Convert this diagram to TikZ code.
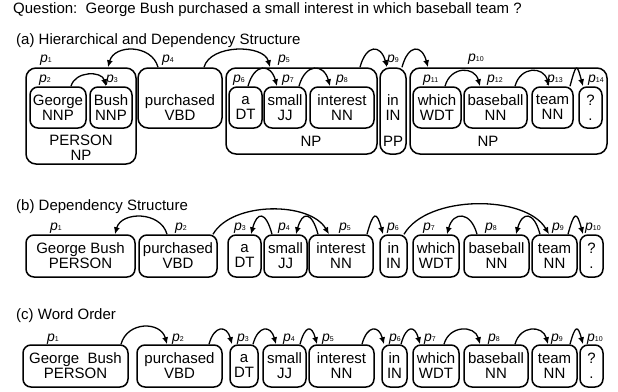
\documentclass[tikz,border=0pt]{standalone}
\usepackage{fontspec}
\setmainfont{Liberation Sans}
\usetikzlibrary{arrows.meta}
\newcommand{\plab}[1]{\textit{p}\raisebox{-0.3pt}{\fontsize{7}{7}\selectfont #1}}

\begin{document}
\begin{tikzpicture}[x=1pt, y=1pt,
                    every node/.style={font=\fontsize{15}{15}\selectfont, inner sep=0pt},
                    word/.style={draw, line width=1.5pt, rounded corners=8pt, align=center, minimum height=41pt},
                    grp/.style={draw, line width=1.5pt, rounded corners=10pt},
                    lbl/.style={align=center},
                    pl/.style={anchor=base west, font=\fontsize{14}{14}\selectfont},
                    dep/.style={-{Latex[length=7pt,width=6pt]}, line width=1.3pt, distance=24pt},
                    rt/.style={out=75, in=105},
                    lf/.style={out=105, in=75}]
\useasboundingbox (0,0) rectangle (618,-391);

\node[anchor=base west] (question) at (13,-13.5) {Question:\ \ George Bush purchased a small interest in which baseball team ?};
\node[anchor=base west] (titlea) at (16,-44.5) {(a) Hierarchical and Dependency Structure};
\node[anchor=base west] (titleb) at (16,-210.5) {(b) Dependency Structure};
\node[anchor=base west] (titlec) at (16,-319.5) {(c) Word Order};

\node[grp, minimum width=110pt, minimum height=96pt] (aperson) at (81,-116) {};
\node[word, minimum width=56pt] (ageorge) at (58,-107.5) {George\\NNP};
\node[word, minimum width=42pt] (abush) at (111,-107.5) {Bush\\NNP};
\node[lbl] (apersonlbl) at (81,-147.5) {PERSON\\NP};
\node[grp, minimum width=84pt, minimum height=60pt] (apurch) at (180,-98) {};
\node[lbl] (apurchlbl) at (180,-107.5) {purchased\\VBD};
\node[grp, minimum width=151pt, minimum height=86pt] (anpa) at (301.5,-111) {};
\node[word, minimum width=33pt] (aa) at (245.5,-107.5) {a\\DT};
\node[word, minimum width=42pt] (asmall) at (285,-107.5) {small\\JJ};
\node[word, minimum width=64pt] (ainterest) at (342,-107.5) {interest\\NN};
\node (anpalbl) at (311,-141) {NP};
\node[grp, minimum width=26pt, minimum height=86pt] (app) at (393,-111) {};
\node[lbl] (applbl) at (393,-107.5) {in\\IN};
\node (apptag) at (393,-141) {PP};
\node[grp, minimum width=197pt, minimum height=86pt] (anpb) at (508.5,-111) {};
\node[word, minimum width=48pt] (awhich) at (437,-107.5) {which\\WDT};
\node[word, minimum width=63pt] (abaseball) at (495.5,-107.5) {baseball\\NN};
\node[word, minimum width=41pt] (ateam) at (552.5,-107.5) {team\\NN};
\node[word, minimum width=23pt] (aq) at (590.5,-107.5) {?\\.};
\node (anpblbl) at (488,-141) {NP};

\node[pl] (ap1) at (40,-62) {\plab{1}};
\node[pl] (ap2) at (39,-82) {\plab{2}};
\node[pl] (ap3) at (106,-82) {\plab{3}};
\node[pl] (ap4) at (162,-62) {\plab{4}};
\node[pl] (ap5) at (278,-62) {\plab{5}};
\node[pl] (ap6) at (233,-82) {\plab{6}};
\node[pl] (ap7) at (282,-82) {\plab{7}};
\node[pl] (ap8) at (336,-82) {\plab{8}};
\node[pl] (ap9) at (387,-62) {\plab{9}};
\node[pl] (ap10) at (468,-61) {\plab{10}};
\node[pl] (ap11) at (423,-82) {\plab{11}};
\node[pl] (ap12) at (487,-82) {\plab{12}};
\node[pl] (ap13) at (547,-82) {\plab{13}};
\node[pl] (ap14) at (588,-82) {\plab{14}};

\draw[dep, lf] ([xshift=-22pt]apurch.north) to ([xshift=27pt]aperson.north);
\draw[dep, rt] ([xshift=24pt]apurch.north) to ([xshift=-31.5pt]anpa.north);
\draw[dep, rt, distance=16pt] ([xshift=13pt]ageorge.north) to ([xshift=-5pt]abush.north);
\draw[dep, rt] ([xshift=2.5pt]aa.north) to ([xshift=-8pt]asmall.north);
\draw[dep, rt] ([xshift=14pt]asmall.north) to ([xshift=-12pt]ainterest.north);
\draw[dep, rt] ([xshift=58.5pt]anpa.north) to ([xshift=-6pt]app.north);
\draw[dep, rt] ([xshift=9pt]app.north) to ([xshift=-80.5pt]anpb.north);
\draw[dep, rt, distance=21pt] ([xshift=8pt]awhich.north) to ([xshift=-15.5pt]abaseball.north);
\draw[dep, rt, distance=21pt] ([xshift=19.5pt]abaseball.north) to ([xshift=-3.5pt]ateam.north);
\draw[dep, rt] ([xshift=17.5pt]ateam.north) to ([xshift=-7.5pt]aq.north);

\node[word, minimum width=109pt, minimum height=42pt] (bgb) at (80.5,-256) {George Bush\\PERSON};
\node[word, minimum width=78pt, minimum height=42pt] (bpurch) at (178,-256) {purchased\\VBD};
\node[word, minimum width=33pt, minimum height=42pt] (ba) at (244.5,-256) {a\\DT};
\node[word, minimum width=43pt, minimum height=42pt] (bsmall) at (285.5,-256) {small\\JJ};
\node[word, minimum width=64pt, minimum height=42pt] (binterest) at (341,-256) {interest\\NN};
\node[word, minimum width=27pt, minimum height=42pt] (bin) at (393.5,-256) {in\\IN};
\node[word, minimum width=46pt, minimum height=42pt] (bwhich) at (436,-256) {which\\WDT};
\node[word, minimum width=65pt, minimum height=42pt] (bbaseball) at (496.5,-256) {baseball\\NN};
\node[word, minimum width=45pt, minimum height=42pt] (bteam) at (554.5,-256) {team\\NN};
\node[word, minimum width=23pt, minimum height=42pt] (bq) at (591.5,-256) {?\\.};

\node[pl] (bp1) at (50,-230.5) {\plab{1}};
\node[pl] (bp2) at (175,-230.5) {\plab{2}};
\node[pl] (bp3) at (234,-230.5) {\plab{3}};
\node[pl] (bp4) at (278,-230.5) {\plab{4}};
\node[pl] (bp5) at (339,-230.5) {\plab{5}};
\node[pl] (bp6) at (387,-230.5) {\plab{6}};
\node[pl] (bp7) at (423,-230.5) {\plab{7}};
\node[pl] (bp8) at (485,-230.5) {\plab{8}};
\node[pl] (bp9) at (552,-230.5) {\plab{9}};
\node[pl] (bp10) at (585,-230.5) {\plab{10}};

\draw[dep, lf] ([xshift=-11pt]bpurch.north) to ([xshift=34.5pt]bgb.north);
\draw[dep, out=60, in=120, distance=38pt] ([xshift=35pt]bpurch.north) to ([xshift=-12pt]binterest.north);
\draw[dep, lf] ([xshift=-13.5pt]bsmall.north) to ([xshift=6.5pt]ba.north);
\draw[dep, lf] ([xshift=-23pt]binterest.north) to ([xshift=10.5pt]bsmall.north);
\draw[dep, rt] ([xshift=26pt]binterest.north) to ([xshift=-10.5pt]bin.north);
\draw[dep, out=60, in=120, distance=46pt] ([xshift=10.5pt]bin.north) to ([xshift=-5.5pt]bteam.north);
\draw[dep, lf] ([xshift=-19.5pt]bbaseball.north) to ([xshift=11pt]bwhich.north);
\draw[dep, lf] ([xshift=-14.5pt]bteam.north) to ([xshift=19.5pt]bbaseball.north);
\draw[dep, rt] ([xshift=13.5pt]bteam.north) to ([xshift=-8.5pt]bq.north);

\node[word, minimum width=105pt, minimum height=42pt] (cgb) at (75.5,-366) {George\ \ Bush\\PERSON};
\node[word, minimum width=85pt, minimum height=42pt] (cpurch) at (179.5,-366) {purchased\\VBD};
\node[word, minimum width=28pt, minimum height=42pt] (ca) at (244,-366) {a\\DT};
\node[word, minimum width=43pt, minimum height=42pt] (csmall) at (284.5,-366) {small\\JJ};
\node[word, minimum width=65pt, minimum height=42pt] (cinterest) at (341.5,-366) {interest\\NN};
\node[word, minimum width=25pt, minimum height=42pt] (cin) at (394.5,-366) {in\\IN};
\node[word, minimum width=46pt, minimum height=42pt] (cwhich) at (436,-366) {which\\WDT};
\node[word, minimum width=64pt, minimum height=42pt] (cbaseball) at (496,-366) {baseball\\NN};
\node[word, minimum width=45pt, minimum height=42pt] (cteam) at (554.5,-366) {team\\NN};
\node[word, minimum width=23pt, minimum height=42pt] (cq) at (591.5,-366) {?\\.};

\node[pl] (cp1) at (47,-341) {\plab{1}};
\node[pl] (cp2) at (172,-341) {\plab{2}};
\node[pl] (cp3) at (237,-341) {\plab{3}};
\node[pl] (cp4) at (283,-341) {\plab{4}};
\node[pl] (cp5) at (322,-341) {\plab{5}};
\node[pl] (cp6) at (389,-341) {\plab{6}};
\node[pl] (cp7) at (424,-341) {\plab{7}};
\node[pl] (cp8) at (488,-341) {\plab{8}};
\node[pl] (cp9) at (551,-341) {\plab{9}};
\node[pl] (cp10) at (587,-341) {\plab{10}};

\draw[dep, rt] ([xshift=45.5pt]cgb.north) to ([xshift=-12.5pt]cpurch.north);
\draw[dep, rt, distance=20pt] ([xshift=29.5pt]cpurch.north) to ([xshift=-12pt]ca.north);
\draw[dep, rt, distance=20pt] ([xshift=9pt]ca.north) to ([xshift=-8.5pt]csmall.north);
\draw[dep, rt, distance=20pt] ([xshift=15.5pt]csmall.north) to ([xshift=-24.5pt]cinterest.north);
\draw[dep, rt, distance=20pt] ([xshift=20.5pt]cinterest.north) to ([xshift=-10.5pt]cin.north);
\draw[dep, rt, distance=20pt] ([xshift=6.5pt]cin.north) to ([xshift=-16pt]cwhich.north);
\draw[dep, rt, distance=20pt] ([xshift=8pt]cwhich.north) to ([xshift=-16pt]cbaseball.north);
\draw[dep, rt, distance=20pt] ([xshift=19pt]cbaseball.north) to ([xshift=-6.5pt]cteam.north);
\draw[dep, rt, distance=20pt] ([xshift=15.5pt]cteam.north) to ([xshift=-8.5pt]cq.north);
\end{tikzpicture}
\end{document}
